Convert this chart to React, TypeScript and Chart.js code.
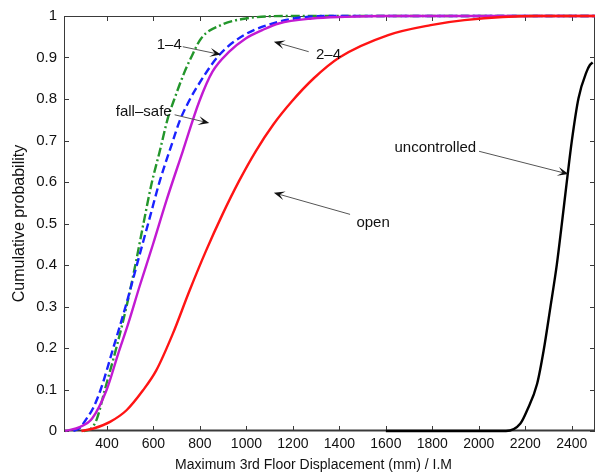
import React, { useEffect, useRef } from 'react';
import { Chart, registerables } from 'chart.js';

Chart.register(...registerables);

// ---------- axis ticks ----------
const xTicks = [400, 600, 800, 1000, 1200, 1400, 1600, 1800, 2000, 2200, 2400];
const yTicks = [0, 0.1, 0.2, 0.3, 0.4, 0.5, 0.6, 0.7, 0.8, 0.9, 1];
const yTickLabels = ['0', '0.1', '0.2', '0.3', '0.4', '0.5', '0.6', '0.7', '0.8', '0.9', '1'];
const xTitle = 'Maximum 3rd Floor Displacement (mm) / I.M';
const yTitle = 'Cumulative probability';

// ---------- series ----------
// green dash-dot
const greenX = [300, 330, 357, 391, 440, 484, 522, 557, 591, 627, 662, 690, 730, 762, 805, 890, 997, 1180, 2500];
const greenY = [0, 0.005, 0.03, 0.1, 0.2, 0.3, 0.4, 0.5, 0.594, 0.674, 0.754, 0.8, 0.86, 0.9, 0.946, 0.978, 0.994, 1, 1];
// blue dashed
const blueX = [255, 285, 310, 340, 373, 427, 480, 541, 584, 627, 683, 712, 752, 783, 883, 990, 1139, 1260, 1350, 2500];
const blueY = [0, 0.008, 0.028, 0.055, 0.1, 0.2, 0.3, 0.426, 0.514, 0.602, 0.698, 0.746, 0.794, 0.825, 0.906, 0.954, 0.986, 0.998, 1, 1];
// magenta solid
const magentaX = [220, 285, 336, 399, 448, 491, 541, 598, 655, 726, 797, 854, 926, 997, 1068, 1139, 1282, 1424, 1600, 2500];
const magentaY = [0, 0.01, 0.03, 0.1, 0.186, 0.258, 0.35, 0.45, 0.554, 0.674, 0.794, 0.866, 0.914, 0.946, 0.966, 0.982, 0.994, 0.998, 1, 1];
// red solid (open)
const openX = [290, 342, 413, 484, 555, 612, 683, 755, 826, 897, 968, 1040, 1115, 1195, 1290, 1400, 1610, 1793, 1938, 2250, 2500];
const openY = [0, 0.006, 0.022, 0.05, 0.098, 0.146, 0.234, 0.338, 0.434, 0.522, 0.602, 0.674, 0.738, 0.794, 0.85, 0.9, 0.954, 0.978, 0.99, 1, 1];
// black solid (uncontrolled)
const uncontrolledX = [1600, 2117, 2179, 2208, 2251, 2279, 2308, 2336, 2357, 2379, 2400, 2429, 2464, 2478, 2490];
const uncontrolledY = [0, 0, 0.018, 0.05, 0.114, 0.194, 0.298, 0.402, 0.498, 0.602, 0.698, 0.802, 0.866, 0.882, 0.888];

// ---------- annotations (data coordinates) ----------
const noteLabels = ['1\u20134', '2\u20134', 'fall\u2013safe', 'uncontrolled', 'open'];
const noteTextX = [668, 1353, 558, 1813, 1545];
const noteTextY = [0.93, 0.906, 0.77, 0.682, 0.502];
const arrowFromX = [726, 1268, 691, 2001, 1446];
const arrowFromY = [0.926, 0.914, 0.762, 0.674, 0.522];
const arrowToX = [890, 1118, 840, 2386, 1118];
const arrowToY = [0.907, 0.938, 0.742, 0.619, 0.574];

const FONT = "'Liberation Sans', Arial, Helvetica, sans-serif";

const zip = (xs: number[], ys: number[]) => xs.map((x, i) => ({ x, y: ys[i] }));

const framePlugin = {
  id: 'frame',
  beforeDatasetsDraw(chart: any) {
    const { ctx, chartArea: a, scales } = chart;
    ctx.save();
    ctx.strokeStyle = '#3a3a3a';
    ctx.lineWidth = 1;
    ctx.strokeRect(Math.round(a.left) + 0.5, Math.round(a.top) + 0.5, Math.round(a.right - a.left) - 1, Math.round(a.bottom - a.top) - 1);
    const tl = 5;
    ctx.beginPath();
    xTicks.forEach((v) => {
      const px = Math.round(scales.x.getPixelForValue(v)) + 0.5;
      ctx.moveTo(px, a.bottom);
      ctx.lineTo(px, a.bottom - tl);
      ctx.moveTo(px, a.top);
      ctx.lineTo(px, a.top + tl);
    });
    yTicks.forEach((v) => {
      const py = Math.round(scales.y.getPixelForValue(v)) + 0.5;
      ctx.moveTo(a.left, py);
      ctx.lineTo(a.left + tl, py);
      ctx.moveTo(a.right, py);
      ctx.lineTo(a.right - tl, py);
    });
    ctx.stroke();
    ctx.beginPath();
    ctx.lineWidth = 2;
    ctx.moveTo(a.left, a.bottom - 0.5);
    ctx.lineTo(a.right, a.bottom - 0.5);
    ctx.stroke();
    ctx.restore();
  },
  afterDraw(chart: any) {
    const { ctx, chartArea: a } = chart;
    ctx.save();
    ctx.fillStyle = '#111';
    ctx.font = `14px ${FONT}`;
    ctx.textAlign = 'center';
    ctx.textBaseline = 'middle';
    ctx.fillText(xTitle, a.left + (a.right - a.left) * 0.47, a.bottom + 34);
    ctx.restore();
  },
};

const drawArrow = (ctx: CanvasRenderingContext2D, x1: number, y1: number, x2: number, y2: number) => {
  const ang = Math.atan2(y2 - y1, x2 - x1);
  const ux = Math.cos(ang);
  const uy = Math.sin(ang);
  const px = -uy;
  const py = ux;
  ctx.strokeStyle = '#555';
  ctx.lineWidth = 1;
  ctx.beginPath();
  ctx.moveTo(x1, y1);
  ctx.lineTo(x2 - ux * 4, y2 - uy * 4);
  ctx.stroke();
  const L = 11;
  const W = 4.5;
  const notch = 6;
  ctx.fillStyle = '#111';
  ctx.beginPath();
  ctx.moveTo(x2, y2);
  ctx.lineTo(x2 - ux * L + px * W, y2 - uy * L + py * W);
  ctx.lineTo(x2 - ux * notch, y2 - uy * notch);
  ctx.lineTo(x2 - ux * L - px * W, y2 - uy * L - py * W);
  ctx.closePath();
  ctx.fill();
};

const notesPlugin = {
  id: 'notes',
  afterDatasetsDraw(chart: any) {
    const { ctx, scales } = chart;
    const sx = scales.x;
    const sy = scales.y;
    ctx.save();
    noteLabels.forEach((label, i) => {
      drawArrow(
        ctx,
        sx.getPixelForValue(arrowFromX[i]),
        sy.getPixelForValue(arrowFromY[i]),
        sx.getPixelForValue(arrowToX[i]),
        sy.getPixelForValue(arrowToY[i])
      );
      ctx.fillStyle = '#111';
      ctx.font = `15px ${FONT}`;
      ctx.textAlign = 'center';
      ctx.textBaseline = 'middle';
      ctx.fillText(label, sx.getPixelForValue(noteTextX[i]), sy.getPixelForValue(noteTextY[i]));
    });
    ctx.restore();
  },
};

export default function App() {
  const ref = useRef<HTMLCanvasElement | null>(null);

  useEffect(() => {
    if (!ref.current) return;
    const mk = (label: string, xs: number[], ys: number[], color: string, dash: number[], width = 2.4) => ({
      label,
      data: zip(xs, ys),
      borderColor: color,
      backgroundColor: color,
      borderWidth: width,
      borderDash: dash,
      pointRadius: 0,
      cubicInterpolationMode: 'monotone',
      fill: false,
      clip: false as any,
    });
    const chart = new Chart(ref.current, {
      type: 'line',
      data: {
        datasets: [
          mk('open', openX, openY, '#ff1414', []),
          mk('uncontrolled', uncontrolledX, uncontrolledY, '#000000', []),
          mk('2\u20134', magentaX, magentaY, '#c21ad2', []),
          mk('1\u20134', blueX, blueY, '#1a22ff', [8, 4]),
          mk('fall\u2013safe', greenX, greenY, '#23962b', [9, 3, 2, 3]),
        ],
      },
      options: {
        responsive: false,
        animation: false,
        devicePixelRatio: 1,
        layout: { padding: { top: 14, right: 3, left: 0, bottom: 0 } },
        plugins: { legend: { display: false }, tooltip: { enabled: false }, title: { display: false } },
        scales: {
          x: {
            type: 'linear',
            min: 215,
            max: 2500,
            grid: { display: false, drawTicks: false },
            border: { display: false },
            afterBuildTicks: (s: any) => {
              s.ticks = xTicks.map((v) => ({ value: v }));
            },
            afterFit: (s: any) => {
              s.height = 43;
            },
            ticks: {
              padding: 5,
              color: '#111',
              font: { size: 14, family: FONT },
              maxRotation: 0,
              autoSkip: false,
              callback: (v: any) => String(v),
            },
            title: { display: false },
          },
          y: {
            type: 'linear',
            min: 0,
            max: 1,
            grid: { display: false, drawTicks: false },
            border: { display: false },
            afterBuildTicks: (s: any) => {
              s.ticks = yTicks.map((v) => ({ value: v }));
            },
            afterFit: (s: any) => {
              s.width = 64;
            },
            ticks: {
              padding: 7,
              color: '#111',
              font: { size: 15, family: FONT },
              autoSkip: false,
              callback: (v: any) => {
                const i = yTicks.indexOf(v);
                return i >= 0 ? yTickLabels[i] : '';
              },
            },
            title: {
              display: true,
              text: yTitle,
              color: '#111',
              font: { size: 16, family: FONT },
              padding: { top: 10, bottom: 0 },
            },
          },
        },
      } as any,
      plugins: [framePlugin, notesPlugin],
    });
    return () => chart.destroy();
  }, []);

  return (
    <div style={{ position: 'fixed', left: 0, top: 0, width: 598, height: 474, background: '#fff' }}>
      <canvas ref={ref} width={598} height={474} style={{ width: 598, height: 474, display: 'block' }} />
    </div>
  );
}
